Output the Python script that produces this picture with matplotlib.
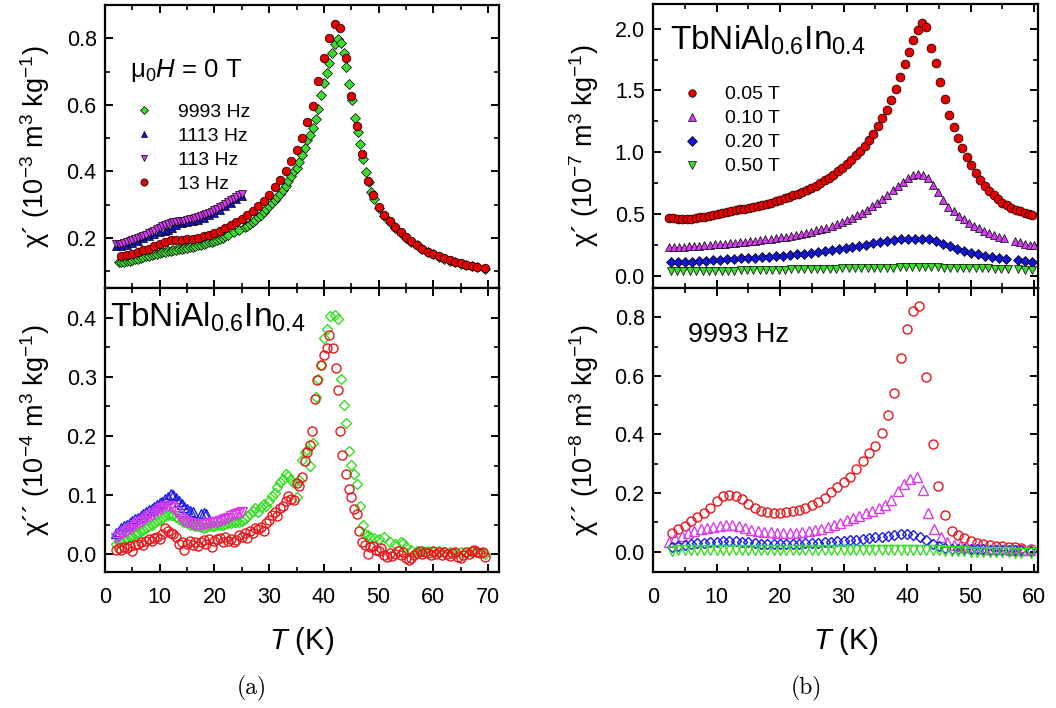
import matplotlib
matplotlib.use("Agg")
import matplotlib.pyplot as plt
from matplotlib.ticker import MultipleLocator, FormatStrFormatter
from matplotlib.lines import Line2D

plt.rcParams['font.family'] = ['Liberation Sans', 'DejaVu Sans']
plt.rcParams['mathtext.fontset'] = 'custom'
plt.rcParams['mathtext.rm'] = 'Liberation Sans'
plt.rcParams['mathtext.it'] = 'Liberation Sans:italic'
plt.rcParams['mathtext.bf'] = 'Liberation Sans:bold'

# ---------------- (a) top: chi' (1e-3 m3/kg), mu0H = 0 T ----------------
a_top_T_9993 = [2.5, 3, 3.5, 4, 4.5, 5, 5.5, 6, 6.5, 7, 7.5, 8, 8.5, 9, 9.5, 10, 10.5, 11, 11.5, 12,
                12.5, 13, 13.5, 14, 14.5, 15, 15.5, 16, 16.5, 17, 17.5, 18, 18.5, 19, 19.5, 20, 20.5, 21,
                21.5, 22, 22.5, 23.5, 24.5, 25.5, 26, 26.5, 27, 27.5, 28, 28.5, 29, 29.5, 30, 30.5, 31,
                31.5, 32, 32.5, 33, 33.5, 34, 34.5, 35, 35.5, 36, 36.5, 37, 37.5, 38, 38.5, 39, 39.5, 40,
                40.5, 41, 41.5, 42, 42.5, 43.2, 43.6, 44, 44.5, 45.1, 45.7, 46.2, 46.6, 47.1, 47.7, 48.2,
                48.6, 49.2, 50, 51, 52, 53, 54, 55, 56, 57, 58, 59, 60, 61, 62, 63, 64, 65, 66, 67, 68, 69.5]
a_top_chi_9993 = [0.129, 0.128, 0.129, 0.130, 0.132, 0.134, 0.136, 0.138, 0.140, 0.143, 0.145, 0.147, 0.149,
                  0.151, 0.153, 0.155, 0.157, 0.158, 0.160, 0.162, 0.163, 0.165, 0.166, 0.168, 0.169, 0.171,
                  0.172, 0.174, 0.176, 0.178, 0.180, 0.182, 0.184, 0.187, 0.189, 0.192, 0.195, 0.198, 0.201,
                  0.205, 0.209, 0.217, 0.224, 0.232, 0.237, 0.242, 0.249, 0.255, 0.262, 0.270, 0.278, 0.286,
                  0.295, 0.304, 0.313, 0.322, 0.333, 0.345, 0.357, 0.370, 0.385, 0.400, 0.410, 0.428, 0.450,
                  0.470, 0.495, 0.510, 0.530, 0.558, 0.588, 0.630, 0.665, 0.697, 0.727, 0.757, 0.784, 0.797,
                  0.787, 0.757, 0.714, 0.664, 0.614, 0.562, 0.519, 0.482, 0.436, 0.399, 0.369, 0.339, 0.316,
                  0.290, 0.267, 0.247, 0.230, 0.215, 0.201, 0.189, 0.178, 0.167, 0.158, 0.151, 0.144, 0.138,
                  0.132, 0.127, 0.123, 0.119, 0.116, 0.113, 0.108]

a_top_T_1113 = [2, 3, 4, 5, 6, 7, 8, 9, 10, 11, 11.6, 12.2, 13, 14, 15, 16, 17, 18, 19, 20, 21, 22, 23, 24, 25]
a_top_chi_1113 = [0.176, 0.177, 0.180, 0.186, 0.192, 0.199, 0.206, 0.213, 0.219, 0.222, 0.225, 0.229, 0.240,
                  0.244, 0.247, 0.251, 0.255, 0.261, 0.268, 0.276, 0.285, 0.295, 0.306, 0.316, 0.326]

a_top_T_113 = [2, 2.5, 3, 3.5, 4, 4.5, 5, 5.5, 6, 6.5, 7, 7.5, 8, 8.5, 9, 9.5, 10, 10.5, 11, 11.5, 12, 12.5,
               13, 13.5, 14, 14.5, 15, 15.5, 16, 16.5, 17, 17.5, 18, 18.5, 19, 19.5, 20, 20.5, 21, 21.5, 22,
               22.5, 23, 23.5, 24, 24.5, 25]
a_top_chi_113 = [0.182, 0.182, 0.183, 0.185, 0.187, 0.190, 0.193, 0.196, 0.199, 0.202, 0.206, 0.210, 0.214,
                 0.218, 0.222, 0.226, 0.230, 0.235, 0.239, 0.243, 0.246, 0.248, 0.249, 0.250, 0.251, 0.252,
                 0.254, 0.256, 0.258, 0.260, 0.262, 0.265, 0.268, 0.271, 0.275, 0.279, 0.283, 0.288, 0.292,
                 0.297, 0.302, 0.308, 0.313, 0.318, 0.323, 0.328, 0.333]

a_top_T_13 = [3, 4, 5, 6, 7, 8, 9, 10, 11, 12, 13, 14, 15, 16, 17, 18, 19, 20, 21, 22, 23, 24, 25, 26, 27,
              28, 29, 30, 31, 32, 33, 34, 35, 36, 37, 38, 39, 40, 41, 42, 43, 44, 45, 46, 47, 48, 49, 50,
              51, 52, 53, 54, 55, 56, 57, 58, 59, 60, 61, 62, 63, 64, 65, 66, 67, 68, 69.5]
a_top_chi_13 = [0.146, 0.148, 0.152, 0.158, 0.163, 0.168, 0.175, 0.182, 0.188, 0.193, 0.195, 0.195, 0.196,
                0.197, 0.200, 0.205, 0.210, 0.216, 0.222, 0.230, 0.238, 0.247, 0.257, 0.269, 0.281, 0.295,
                0.310, 0.330, 0.352, 0.375, 0.400, 0.430, 0.465, 0.500, 0.548, 0.596, 0.672, 0.740, 0.802,
                0.843, 0.830, 0.740, 0.628, 0.537, 0.452, 0.370, 0.330, 0.293, 0.270, 0.250, 0.232, 0.217,
                0.203, 0.191, 0.180, 0.168, 0.159, 0.152, 0.145, 0.139, 0.133, 0.128, 0.124, 0.120, 0.117,
                0.114, 0.109]

# ---------------- (a) bottom: chi'' (1e-4 m3/kg) ----------------
a_bot_T_9993 = [2, 2.5, 3, 3.5, 4, 4.5, 5, 5.5, 6, 6.5, 7, 7.5, 8, 8.5, 9, 9.5, 10, 10.5, 11, 11.5, 12, 12.5,
                13, 13.5, 14, 14.5, 15, 15.5, 16, 16.5, 17, 17.5, 18, 18.5, 19, 19.5, 20, 20.5, 21, 21.5, 22,
                22.5, 23, 23.5, 24, 24.5, 25, 25.5, 26, 26.5, 27, 27.5, 28, 28.5, 29, 29.5, 30, 30.5, 31,
                31.5, 32, 32.5, 33, 33.5, 34, 34.5, 35, 35.5, 36, 36.5, 37, 37.5, 38, 38.5, 39, 39.5, 40,
                40.5, 41.2, 42, 42.6, 43.1, 43.6, 44, 44.5, 45, 45.5, 46, 46.6, 47.1, 47.6, 48, 48.5, 49.2,
                50, 51, 52, 53, 54, 54.5, 55, 56, 57, 58, 59, 60, 61, 62, 63, 64, 65, 66, 67, 68, 69, 69.5]
a_bot_chi_9993 = [0.017, 0.020, 0.022, 0.024, 0.026, 0.029, 0.031, 0.034, 0.036, 0.039, 0.041, 0.044, 0.047,
                  0.050, 0.053, 0.056, 0.058, 0.061, 0.064, 0.066, 0.067, 0.066, 0.063, 0.060, 0.057, 0.054,
                  0.052, 0.050, 0.049, 0.048, 0.047, 0.046, 0.045, 0.046, 0.047, 0.047, 0.048, 0.049, 0.050,
                  0.050, 0.051, 0.052, 0.053, 0.054, 0.054, 0.055, 0.057, 0.060, 0.064, 0.068, 0.073, 0.078,
                  0.072, 0.080, 0.085, 0.082, 0.090, 0.099, 0.104, 0.113, 0.122, 0.128, 0.135, 0.133, 0.126,
                  0.120, 0.096, 0.125, 0.160, 0.172, 0.176, 0.150, 0.188, 0.265, 0.296, 0.320, 0.365, 0.380,
                  0.402, 0.405, 0.397, 0.297, 0.252, 0.222, 0.174, 0.151, 0.136, 0.118, 0.082, 0.050, 0.035,
                  0.033, 0.030, 0.028, 0.025, 0.029, 0.020, 0.017, 0.020, 0.019, 0.012, 0.008, 0.006, 0.005,
                  0.006, 0.004, 0.005, 0.003, 0.004, 0.002, 0.003, 0.002, 0.004, 0.003, 0.002, 0.001]

a_bot_T_1113 = [2, 2.5, 3, 3.5, 4, 4.5, 5, 5.5, 6, 6.5, 7, 7.5, 8, 8.5, 9, 9.5, 10, 10.5, 11, 11.5, 12, 12.5,
                13, 13.5, 14, 14.5, 15, 15.5, 16, 17.5, 18, 18.5]
a_bot_chi_1113 = [0.036, 0.040, 0.044, 0.047, 0.050, 0.053, 0.056, 0.059, 0.062, 0.065, 0.068, 0.071, 0.074,
                  0.077, 0.080, 0.083, 0.086, 0.089, 0.093, 0.097, 0.101, 0.100, 0.095, 0.090, 0.085, 0.080,
                  0.076, 0.073, 0.071, 0.068, 0.070, 0.068]

a_bot_T_113 = a_top_T_113
a_bot_chi_113 = [0.028, 0.031, 0.034, 0.037, 0.040, 0.043, 0.046, 0.049, 0.052, 0.055, 0.058, 0.061, 0.064,
                 0.067, 0.070, 0.073, 0.076, 0.079, 0.081, 0.082, 0.082, 0.078, 0.072, 0.065, 0.060, 0.056,
                 0.054, 0.052, 0.051, 0.050, 0.050, 0.050, 0.051, 0.051, 0.052, 0.053, 0.054, 0.055, 0.056,
                 0.058, 0.060, 0.062, 0.064, 0.066, 0.068, 0.070, 0.071]

a_bot_T_13 = [2, 2.5, 3, 3.5, 4, 4.5, 5, 5.5, 6, 6.5, 7, 7.5, 8, 8.5, 9, 9.5, 10, 10.5, 11, 11.5, 12, 12.5,
              13, 13.5, 14, 14.5, 15, 15.5, 16, 16.5, 17, 17.5, 18, 18.5, 19, 19.5, 20, 20.5, 21, 21.5, 22,
              22.5, 23, 23.5, 24, 24.5, 25, 25.5, 26, 26.5, 27, 27.5, 28, 28.5, 29, 29.5, 30, 30.5, 31, 31.5,
              32, 32.5, 33, 33.5, 34, 34.5, 35, 35.5, 36, 36.5, 37, 37.5, 37.8, 38.3, 38.7, 39.4, 40, 40.5,
              41, 41.7, 42.2, 42.6, 43, 43.4, 44, 44.6, 45, 45.5, 46, 46.5, 47, 47.5, 48, 48.5, 49, 49.5,
              50, 50.5, 51, 51.5, 52, 52.5, 53, 53.5, 54, 54.5, 55, 55.5, 56, 56.5, 57, 57.5, 58, 58.5, 59,
              59.5, 60, 60.5, 61, 61.5, 62, 62.5, 63, 63.5, 64, 64.5, 65, 65.5, 66, 66.5, 67, 67.5, 68,
              68.5, 69, 69.5]
a_bot_chi_13 = [0.008, 0.010, 0.007, 0.012, 0.010, 0.014, 0.006, 0.015, 0.018, 0.020, 0.016, 0.022, 0.025,
                0.022, 0.028, 0.030, 0.026, 0.035, 0.045, 0.040, 0.036, 0.035, 0.030, 0.018, 0.020, 0.008,
                0.018, 0.022, 0.016, 0.020, 0.014, 0.020, 0.024, 0.018, 0.026, 0.012, 0.022, 0.025, 0.028,
                0.020, 0.030, 0.022, 0.026, 0.020, 0.024, 0.033, 0.030, 0.036, 0.028, 0.040, 0.036, 0.045,
                0.042, 0.046, 0.040, 0.052, 0.058, 0.066, 0.072, 0.065, 0.078, 0.082, 0.090, 0.098, 0.093,
                0.091, 0.120, 0.116, 0.130, 0.158, 0.173, 0.184, 0.209, 0.263, 0.295, 0.320, 0.337, 0.348,
                0.371, 0.348, 0.314, 0.277, 0.209, 0.167, 0.136, 0.110, 0.096, 0.076, 0.068, 0.040, 0.020,
                0.015, 0.000, 0.012, 0.014, 0.008, 0.005, 0.010, -0.002, -0.004, 0.002, -0.003, 0.000, 0.006,
                -0.002, 0.004, -0.006, -0.010, -0.006, -0.002, 0.002, 0.006, 0.000, 0.004, 0.002, -0.002,
                0.006, 0.000, 0.003, -0.002, 0.004, 0.000, -0.003, 0.002, 0.004, -0.004, -0.006, -0.002,
                0.004, 0.000, 0.006, 0.008, 0.004, 0.002, 0.004, -0.004]

# ---------------- (b) top: chi' (1e-7 m3/kg), 9993 Hz, various fields ----------------
b_top_T_005 = [2.5, 3.2, 3.9, 4.6, 5.3, 6.0, 6.7, 7.4, 8.1, 8.8, 9.5, 10.2, 10.9, 11.6, 12.3, 13.0, 13.7,
               14.4, 15.1, 15.8, 16.5, 17.2, 17.9, 18.6, 19.3, 20.0, 20.7, 21.4, 22.1, 22.8, 23.5, 24.2,
               24.9, 25.6, 26.3, 27.0, 27.7, 28.4, 29.1, 29.8, 30.5, 31.2, 31.9, 32.6, 33.3, 34.0, 34.7,
               35.4, 36.1, 36.8, 37.5, 38.2, 38.9, 39.6, 40.3, 41.0, 41.7, 42.3, 43.0, 43.8, 44.5, 45.2,
               45.9, 46.6, 47.3, 48.0, 48.7, 49.4, 50.1, 50.8, 51.5, 52.2, 52.9, 53.6, 54.3, 55.0, 55.7,
               56.4, 57.1, 57.8, 58.5, 59.2, 59.7]
b_top_chi_005 = [0.470, 0.465, 0.461, 0.459, 0.459, 0.461, 0.465, 0.471, 0.478, 0.485, 0.493, 0.500, 0.508,
                 0.516, 0.524, 0.531, 0.537, 0.543, 0.549, 0.556, 0.564, 0.573, 0.582, 0.592, 0.603, 0.614,
                 0.626, 0.638, 0.651, 0.665, 0.680, 0.695, 0.712, 0.730, 0.750, 0.771, 0.794, 0.818, 0.845,
                 0.874, 0.906, 0.940, 0.975, 1.010, 1.050, 1.098, 1.150, 1.210, 1.275, 1.345, 1.425, 1.510,
                 1.610, 1.715, 1.810, 1.910, 1.990, 2.045, 2.010, 1.840, 1.720, 1.570, 1.430, 1.305, 1.205,
                 1.115, 1.035, 0.960, 0.893, 0.833, 0.778, 0.728, 0.688, 0.652, 0.618, 0.592, 0.569, 0.550,
                 0.535, 0.522, 0.510, 0.498, 0.490]

b_top_T_010 = [2.5, 3.3, 4.1, 4.9, 5.7, 6.5, 7.3, 8.1, 8.9, 9.7, 10.5, 11.3, 12.1, 12.9, 13.7, 14.5, 15.3,
               16.1, 16.9, 17.7, 18.5, 19.3, 20.1, 20.9, 21.7, 22.5, 23.3, 24.1, 24.9, 25.7, 26.5, 27.3,
               28.1, 28.9, 29.7, 30.5, 31.3, 32.1, 32.9, 33.7, 34.5, 35.3, 36.1, 36.9, 37.7, 38.5, 39.3,
               40.1, 40.9, 41.7, 42.5, 43.3, 44.1, 44.9, 45.7, 46.5, 47.3, 48.1, 48.9, 49.7, 50.5, 51.3,
               52.1, 52.9, 53.7, 54.5, 55.3, 57.0, 57.8, 58.6, 59.4, 59.9]
b_top_chi_010 = [0.232, 0.233, 0.234, 0.236, 0.238, 0.241, 0.244, 0.247, 0.250, 0.253, 0.256, 0.259, 0.262,
                 0.266, 0.270, 0.274, 0.279, 0.284, 0.289, 0.294, 0.299, 0.304, 0.309, 0.315, 0.322, 0.329,
                 0.337, 0.345, 0.355, 0.366, 0.377, 0.389, 0.402, 0.416, 0.431, 0.448, 0.467, 0.488, 0.510,
                 0.535, 0.562, 0.590, 0.622, 0.657, 0.693, 0.728, 0.762, 0.790, 0.812, 0.826, 0.818, 0.790,
                 0.735, 0.675, 0.612, 0.560, 0.520, 0.485, 0.455, 0.430, 0.405, 0.383, 0.363, 0.345, 0.330,
                 0.316, 0.304, 0.280, 0.270, 0.260, 0.250, 0.245]

b_top_T_020 = [2.8, 3.9, 5.0, 6.1, 7.2, 8.3, 9.4, 10.5, 11.6, 12.7, 13.8, 14.9, 16.0, 17.1, 18.2, 19.3, 20.4,
               21.5, 22.6, 23.7, 24.8, 25.9, 27.0, 28.1, 29.2, 30.3, 31.4, 32.5, 33.6, 34.7, 35.8, 36.9,
               38.0, 39.1, 40.2, 41.3, 42.4, 43.5, 44.6, 45.7, 46.8, 47.9, 49.0, 50.1, 51.2, 52.3, 53.4,
               54.5, 55.6, 57.4, 58.5, 59.6]
b_top_chi_020 = [0.108, 0.109, 0.111, 0.113, 0.116, 0.119, 0.123, 0.127, 0.131, 0.135, 0.139, 0.143, 0.147,
                 0.151, 0.155, 0.159, 0.163, 0.168, 0.173, 0.179, 0.185, 0.192, 0.199, 0.207, 0.215, 0.224,
                 0.233, 0.242, 0.252, 0.262, 0.272, 0.281, 0.289, 0.295, 0.299, 0.300, 0.300, 0.294, 0.278,
                 0.255, 0.238, 0.217, 0.200, 0.186, 0.174, 0.163, 0.153, 0.145, 0.137, 0.125, 0.118, 0.114]

b_top_T_050 = [2.8, 3.8, 4.8, 5.8, 6.8, 7.8, 8.8, 9.8, 10.8, 11.8, 12.8, 13.8, 14.8, 15.8, 16.8, 17.8, 18.8,
               19.8, 20.8, 21.8, 22.8, 23.8, 24.8, 25.8, 26.8, 27.8, 28.8, 29.8, 30.8, 31.8, 32.8, 33.8,
               34.8, 35.8, 36.8, 37.8, 38.8, 39.8, 40.8, 41.8, 42.8, 43.8, 44.8, 45.8, 46.8, 47.8, 48.8,
               49.8, 50.8, 51.8, 52.8, 53.8, 54.8, 55.8, 57.5, 58.5, 59.6]
b_top_chi_050 = [0.035, 0.035, 0.036, 0.036, 0.037, 0.037, 0.038, 0.039, 0.040, 0.040, 0.041, 0.042, 0.043,
                 0.044, 0.045, 0.046, 0.047, 0.048, 0.049, 0.050, 0.051, 0.052, 0.053, 0.054, 0.055, 0.056,
                 0.057, 0.058, 0.059, 0.060, 0.061, 0.062, 0.063, 0.064, 0.065, 0.066, 0.067, 0.068, 0.068,
                 0.069, 0.069, 0.068, 0.067, 0.066, 0.065, 0.064, 0.063, 0.062, 0.061, 0.060, 0.058, 0.057,
                 0.056, 0.055, 0.050, 0.048, 0.046]

# ---------------- (b) bottom: chi'' (1e-8 m3/kg) ----------------
b_bot_T_005 = [3, 4, 5, 6, 7, 8, 9, 10, 11, 12, 13, 14, 15, 16, 17, 18, 19, 20, 21, 22, 23, 24, 25, 26, 27,
               28, 29, 30, 31, 32, 33, 34, 35, 36, 37, 38, 39, 40, 41, 41.8, 43, 44, 44.8, 46, 47, 48, 49,
               50, 51, 52, 53, 54, 55, 56, 57, 58, 59.5]
b_bot_chi_005 = [0.063, 0.076, 0.087, 0.104, 0.118, 0.133, 0.147, 0.173, 0.190, 0.193, 0.190, 0.179, 0.162,
                 0.147, 0.139, 0.135, 0.133, 0.133, 0.135, 0.139, 0.142, 0.147, 0.160, 0.170, 0.183, 0.202,
                 0.219, 0.238, 0.256, 0.283, 0.308, 0.338, 0.359, 0.405, 0.467, 0.540, 0.660, 0.760, 0.820,
                 0.837, 0.597, 0.367, 0.225, 0.124, 0.071, 0.055, 0.045, 0.036, 0.030, 0.026, 0.023, 0.020,
                 0.018, 0.016, 0.014, 0.012, 0.010]

b_bot_T_010 = [2.5, 3.5, 4.5, 5.5, 6.5, 7.5, 8.5, 9.5, 10.5, 11.5, 12.5, 13.5, 14.5, 15.5, 16.5, 17.5, 18.5,
               19.5, 20.5, 21.5, 22.5, 23.5, 24.5, 25.5, 26.5, 27.5, 28.5, 29.5, 30.5, 31.5, 32.5, 33.5,
               34.5, 35.5, 36.5, 37.5, 38.5, 39.5, 40.5, 41.5, 42.5, 43.3, 44.3, 45.3, 46.3, 47.3, 48.3,
               49.3, 50.3, 51.3, 52.3, 53.3, 54.3, 55.3, 56.3, 57.3, 58.3, 59.3]
b_bot_chi_010 = [0.031, 0.046, 0.054, 0.062, 0.069, 0.076, 0.080, 0.083, 0.086, 0.089, 0.090, 0.086, 0.080,
                 0.075, 0.071, 0.067, 0.065, 0.063, 0.063, 0.063, 0.064, 0.066, 0.069, 0.073, 0.078, 0.085,
                 0.091, 0.098, 0.106, 0.113, 0.122, 0.132, 0.140, 0.148, 0.158, 0.175, 0.205, 0.232, 0.246,
                 0.253, 0.210, 0.133, 0.076, 0.050, 0.031, 0.022, 0.018, 0.015, 0.013, 0.011, 0.010, 0.009,
                 0.008, 0.007, 0.006, 0.005, 0.004, 0.004]

b_bot_T_020 = [3, 4, 5, 6, 7, 8, 9, 10, 11, 12, 13, 14, 15, 16, 17, 18, 19, 20, 21, 22, 23, 24, 25, 26, 27,
               28, 29, 30, 31, 32, 33, 34, 35, 36, 37, 38, 39, 40, 41, 42, 43, 44, 45, 46, 47, 48, 49, 50,
               51, 52, 53, 54, 55, 56, 57, 58, 59.5]
b_bot_chi_020 = [0.014, 0.018, 0.022, 0.025, 0.028, 0.030, 0.032, 0.034, 0.036, 0.037, 0.036, 0.034, 0.031,
                 0.029, 0.027, 0.026, 0.025, 0.025, 0.025, 0.026, 0.027, 0.028, 0.029, 0.030, 0.031, 0.033,
                 0.035, 0.037, 0.039, 0.041, 0.043, 0.045, 0.048, 0.051, 0.054, 0.057, 0.060, 0.061, 0.058,
                 0.050, 0.039, 0.027, 0.018, 0.013, 0.010, 0.009, 0.008, 0.008, 0.007, 0.007, 0.006, 0.006,
                 0.005, 0.005, 0.004, 0.004, 0.003]

b_bot_T_050 = [3, 4, 5, 6, 7, 8, 9, 10, 11, 12, 13, 14, 15, 16, 17, 18, 19, 20, 21, 22, 23, 24, 25, 26, 27,
               28, 29, 30, 31, 32, 33, 34, 35, 36, 37, 38, 39, 40, 41, 42, 43, 44, 45, 46, 47, 48, 49, 50,
               51, 52, 53, 54, 55, 56, 57, 58, 59.5]
b_bot_chi_050 = [0.003, 0.004, 0.004, 0.005, 0.005, 0.005, 0.005, 0.006, 0.006, 0.006, 0.006, 0.005, 0.005,
                 0.005, 0.005, 0.005, 0.005, 0.005, 0.005, 0.005, 0.005, 0.005, 0.005, 0.005, 0.005, 0.005,
                 0.005, 0.005, 0.005, 0.006, 0.006, 0.006, 0.006, 0.006, 0.006, 0.006, 0.006, 0.006, 0.006,
                 0.006, 0.006, 0.005, 0.004, 0.003, 0.002, 0.001, 0.001, 0.000, 0.000, -0.001, -0.001,
                 -0.002, -0.002, -0.003, -0.004, -0.004, -0.005]

freq_labels = ['9993 Hz', '1113 Hz', '113 Hz', '13 Hz']
field_labels = ['0.05 T', '0.10 T', '0.20 T', '0.50 T']

RED = '#e60000'
GREEN = '#3cdc2c'
BLUE = '#1414d2'
MAG = '#d43cf0'
ORED = '#e8161a'
OGREEN = '#33dd22'
OBLUE = '#1a1aee'
OMAG = '#d83ce8'

W, H = 1056, 708
fig = plt.figure(figsize=(W / 100, H / 100), dpi=100)

def box(l, t, r, b):
    return [l / W, 1 - b / H, (r - l) / W, (b - t) / H]

axTL = fig.add_axes(box(105, 5, 499, 288))
axBL = fig.add_axes(box(105, 288, 499, 572))
axTR = fig.add_axes(box(653, 4, 1038, 288))
axBR = fig.add_axes(box(653, 288, 1038, 572))

TICKFS = 15.5
for ax in (axTL, axBL, axTR, axBR):
    for s in ax.spines.values():
        s.set_linewidth(1.6)
    ax.tick_params(which='both', direction='in', top=True, right=True, labelsize=TICKFS)
    ax.tick_params(which='major', length=6, width=1.4)
    ax.tick_params(which='minor', length=3.8, width=1.2)
    ax.tick_params(axis='x', pad=11)
    ax.tick_params(axis='y', pad=6)
    ax.xaxis.set_major_locator(MultipleLocator(10))
    ax.xaxis.set_minor_locator(MultipleLocator(5))
    ax.yaxis.set_major_formatter(FormatStrFormatter('%.1f'))

for ax in (axTL, axTR):
    ax.tick_params(axis='x', labelbottom=False)

axTL.set_xlim(0, 72)
axBL.set_xlim(0, 72)
axTR.set_xlim(0, 60.6)
axBR.set_xlim(0, 60.6)
axTL.set_ylim(0.05, 0.9)
axBL.set_ylim(-0.03, 0.45)
axTR.set_ylim(-0.1, 2.2)
axBR.set_ylim(-0.07, 0.9)
axTL.yaxis.set_major_locator(MultipleLocator(0.2)); axTL.yaxis.set_minor_locator(MultipleLocator(0.1))
axBL.yaxis.set_major_locator(MultipleLocator(0.1)); axBL.yaxis.set_minor_locator(MultipleLocator(0.05))
axTR.yaxis.set_major_locator(MultipleLocator(0.5)); axTR.yaxis.set_minor_locator(MultipleLocator(0.25))
axBR.yaxis.set_major_locator(MultipleLocator(0.2)); axBR.yaxis.set_minor_locator(MultipleLocator(0.1))

EW = 0.5
# ---- (a) top
axTL.plot(a_top_T_9993, a_top_chi_9993, 'D', ms=4.6, mfc=GREEN, mec='k', mew=EW, ls='none')
axTL.plot(a_top_T_1113, a_top_chi_1113, '^', ms=6, mfc=BLUE, mec='k', mew=EW, ls='none')
axTL.plot(a_top_T_113, a_top_chi_113, 'v', ms=6, mfc=MAG, mec='k', mew=EW, ls='none')
axTL.plot(a_top_T_13, a_top_chi_13, 'o', ms=6.2, mfc=RED, mec='k', mew=EW, ls='none')

# ---- (a) bottom
axBL.plot(a_bot_T_9993, a_bot_chi_9993, 'D', ms=5, mfc='none', mec=OGREEN, mew=1.0, ls='none')
axBL.plot(a_bot_T_1113, a_bot_chi_1113, '^', ms=6.5, mfc='none', mec=OBLUE, mew=1.0, ls='none')
axBL.plot(a_bot_T_113, a_bot_chi_113, 'v', ms=6.5, mfc='none', mec=OMAG, mew=1.0, ls='none')
axBL.plot(a_bot_T_13, a_bot_chi_13, 'o', ms=6.5, mfc='none', mec=ORED, mew=1.0, ls='none')

# ---- (b) top
axTR.plot(b_top_T_005, b_top_chi_005, 'o', ms=6.4, mfc=RED, mec='k', mew=EW, ls='none')
axTR.plot(b_top_T_010, b_top_chi_010, '^', ms=6.2, mfc=MAG, mec='k', mew=EW, ls='none')
axTR.plot(b_top_T_020, b_top_chi_020, 'D', ms=5.2, mfc=BLUE, mec='k', mew=EW, ls='none')
axTR.plot(b_top_T_050, b_top_chi_050, 'v', ms=6.2, mfc=GREEN, mec='k', mew=EW, ls='none')

# ---- (b) bottom
axBR.plot(b_bot_T_005, b_bot_chi_005, 'o', ms=6.5, mfc='none', mec=ORED, mew=1.0, ls='none')
axBR.plot(b_bot_T_010, b_bot_chi_010, '^', ms=6.8, mfc='none', mec=OMAG, mew=1.0, ls='none')
axBR.plot(b_bot_T_020, b_bot_chi_020, 'D', ms=5.4, mfc='none', mec=OBLUE, mew=1.0, ls='none')
axBR.plot(b_bot_T_050, b_bot_chi_050, 'v', ms=6.8, mfc='none', mec=OGREEN, mew=1.0, ls='none')

# ---- legends
LFS = 14
hA = [Line2D([], [], marker='D', ms=3.8, mfc=GREEN, mec='k', mew=EW, ls='none'),
      Line2D([], [], marker='^', ms=5, mfc=BLUE, mec='k', mew=EW, ls='none'),
      Line2D([], [], marker='v', ms=5, mfc=MAG, mec='k', mew=EW, ls='none'),
      Line2D([], [], marker='o', ms=5.2, mfc=RED, mec='k', mew=EW, ls='none')]
axTL.legend(hA, freq_labels, loc='upper left', bbox_to_anchor=(0.075, 0.652), frameon=False,
            fontsize=LFS, handlelength=1.0, handletextpad=1.25, labelspacing=0.33,
            borderpad=0, borderaxespad=0)

hB = [Line2D([], [], marker='o', ms=5.4, mfc=RED, mec='k', mew=EW, ls='none'),
      Line2D([], [], marker='^', ms=5.4, mfc=MAG, mec='k', mew=EW, ls='none'),
      Line2D([], [], marker='D', ms=4.6, mfc=BLUE, mec='k', mew=EW, ls='none'),
      Line2D([], [], marker='v', ms=5.4, mfc=GREEN, mec='k', mew=EW, ls='none')]
axTR.legend(hB, field_labels, loc='upper left', bbox_to_anchor=(0.075, 0.712), frameon=False,
            fontsize=LFS, handlelength=1.0, handletextpad=1.2, labelspacing=0.33,
            borderpad=0, borderaxespad=0)

# ---- annotations
axTL.text(0.063, 0.747, r'$\mathregular{\mu}_{0}$$H$ = 0 T', transform=axTL.transAxes,
          fontsize=18.5, va='baseline', ha='left')
axTR.text(0.044, 0.838, r'TbNiAl$_{0.6}$In$_{0.4}$', transform=axTR.transAxes,
          fontsize=24, va='baseline', ha='left')
axBL.text(0.013, 0.864, r'TbNiAl$_{0.6}$In$_{0.4}$', transform=axBL.transAxes,
          fontsize=24, va='baseline', ha='left')
axBR.text(0.092, 0.811, '9993 Hz', transform=axBR.transAxes,
          fontsize=19.5, va='baseline', ha='left')

# ---- axis labels
YFS = 19.5
axTL.set_ylabel('\u03c7\u00b4 (10$^{-3}$ m$^{3}$ kg$^{-1}$)', fontsize=YFS)
axBL.set_ylabel('\u03c7\u00b4\u00b4 (10$^{-4}$ m$^{3}$ kg$^{-1}$)', fontsize=YFS)
axTR.set_ylabel('\u03c7\u00b4 (10$^{-7}$ m$^{3}$ kg$^{-1}$)', fontsize=YFS)
axBR.set_ylabel('\u03c7\u00b4\u00b4 (10$^{-8}$ m$^{3}$ kg$^{-1}$)', fontsize=YFS)
axTL.yaxis.set_label_coords(-0.135, 0.5)
axBL.yaxis.set_label_coords(-0.135, 0.5)
axTR.yaxis.set_label_coords(-0.136, 0.5)
axBR.yaxis.set_label_coords(-0.136, 0.5)

axBL.set_xlabel('$T$ (K)', fontsize=21, labelpad=12)
axBR.set_xlabel('$T$ (K)', fontsize=21, labelpad=12)

fig.text(252 / W, 1 - 688 / H, '(a)', family='cmr10', fontsize=17, ha='center', va='center')
fig.text(806 / W, 1 - 688 / H, '(b)', family='cmr10', fontsize=17, ha='center', va='center')

fig.savefig('out.png', dpi=100)
